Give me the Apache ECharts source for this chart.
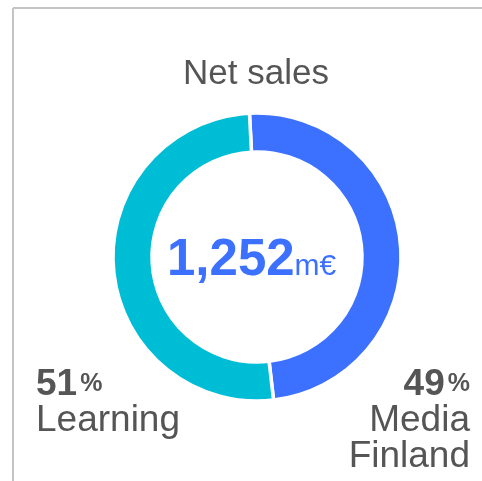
<!DOCTYPE html>
<html>
<head>
<meta charset="utf-8">
<script src="https://cdn.jsdelivr.net/npm/echarts@6/dist/echarts.min.js"></script>
<style>
  html, body { margin: 0; padding: 0; background: #fff; }
  #main { width: 482px; height: 481px; }
</style>
</head>
<body>
<div id="main"></div>
<script>
// segments, clockwise from the top
var segmentNames = ['Media\nFinland', 'Learning'];
var segmentShares = [49, 51];
var segmentColors = ['#3c70ff', '#00bdd6'];
var totalSales = '1,252';
var totalUnit = 'm€';

var chart = echarts.init(document.getElementById('main'));
var font = 'Liberation Sans, Arial, sans-serif';

var option = {
  animation: false,
  title: {
    text: 'Net sales',
    left: 251,
    top: 52,
    textAlign: 'center',
    textStyle: { fontFamily: font, fontSize: 35, fontWeight: 'normal', color: '#555' }
  },
  graphic: [
    { type: 'line', shape: { x1: 13, y1: 8, x2: 482, y2: 8 }, style: { stroke: '#c4c4c4', lineWidth: 2 } },
    { type: 'line', shape: { x1: 13, y1: 8, x2: 13, y2: 481 }, style: { stroke: '#c4c4c4', lineWidth: 2 } },
    {
      type: 'text',
      left: 167,
      top: 235,
      style: {
        text: '{big|' + totalSales + '}{unit|' + totalUnit + '}',
        rich: {
          big: { fontFamily: font, fontSize: 51, fontWeight: 'bold', fill: '#3c70ff', verticalAlign: 'bottom' },
          unit: { fontFamily: font, fontSize: 30, fill: '#3c70ff', verticalAlign: 'bottom', padding: [0, 0, 4, 0] }
        }
      }
    }
  ],
  series: [{
    type: 'pie',
    center: [257, 257],
    radius: [105, 144],
    startAngle: 93,
    clockwise: true,
    silent: true,
    avoidLabelOverlap: false,
    itemStyle: { borderColor: '#fff', borderWidth: 3.5 },
    labelLine: { show: false },
    label: {
      show: true,
      position: 'outside',
      overflow: 'none',
      fontFamily: font,
      color: '#555',
      formatter: function (p) {
        return '{num|' + p.value + '}{pct|%}\n{name|' + p.name + '}';
      },
      rich: {
        num: { fontFamily: font, fontSize: 37, fontWeight: 'bold', color: '#555', lineHeight: 37 },
        pct: { fontFamily: font, fontSize: 25, fontWeight: 'bold', color: '#555', lineHeight: 37, padding: [0, 0, 0, 3] },
        name: { fontFamily: font, fontSize: 37, color: '#555', lineHeight: 36 }
      }
    },
    labelLayout: function (p) {
      if (p.dataIndex === 0) {
        return { x: 470, y: 366, align: 'right', verticalAlign: 'top', hideOverlap: false, moveOverlap: false };
      }
      return { x: 36, y: 366, align: 'left', verticalAlign: 'top', hideOverlap: false, moveOverlap: false };
    },
    data: segmentNames.map(function (n, i) {
      return { name: n, value: segmentShares[i], itemStyle: { color: segmentColors[i] } };
    })
  }]
};
chart.setOption(option);
</script>
</body>
</html>
